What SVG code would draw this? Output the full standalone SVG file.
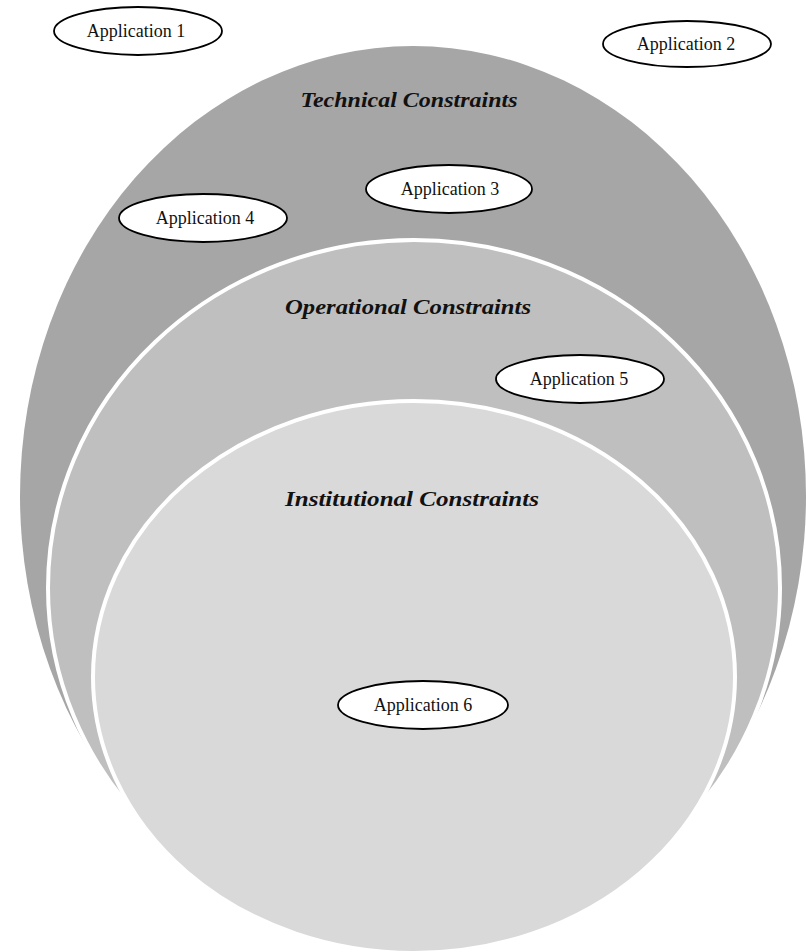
<svg xmlns="http://www.w3.org/2000/svg" width="806" height="952" viewBox="0 0 806 952">
  <style>
    .region-label { font-family: "Liberation Serif", "DejaVu Serif", serif; font-style: italic; font-weight: bold; font-size: 21px; fill: #111; text-anchor: middle; }
    .app { fill: #ffffff; stroke: #000; stroke-width: 1.8; }
    .app-label { font-family: "Liberation Serif", "DejaVu Serif", serif; font-size: 18px; fill: #111; text-anchor: middle; }
    .ring { stroke: #ffffff; stroke-width: 4; }
  </style>
  <rect width="806" height="952" fill="#ffffff"/>

  <g id="technical">
    <ellipse cx="413" cy="496" rx="393" ry="450" fill="#a6a6a6"/>
    <text class="region-label" x="409" y="107" textLength="217" lengthAdjust="spacingAndGlyphs">Technical Constraints</text>
  </g>

  <g id="operational">
    <ellipse class="ring" cx="414" cy="588" rx="366" ry="348" fill="#bfbfbf"/>
    <text class="region-label" x="408" y="314" textLength="246" lengthAdjust="spacingAndGlyphs">Operational Constraints</text>
  </g>

  <g id="institutional">
    <ellipse class="ring" cx="414" cy="677" rx="321" ry="276" fill="#d9d9d9"/>
    <text class="region-label" x="412" y="506" textLength="254" lengthAdjust="spacingAndGlyphs">Institutional Constraints</text>
  </g>

  <g id="app1">
    <ellipse class="app" cx="138" cy="31" rx="84" ry="24"/>
    <text class="app-label" x="136" y="37">Application 1</text>
  </g>
  <g id="app2">
    <ellipse class="app" cx="687" cy="44" rx="84" ry="23"/>
    <text class="app-label" x="686" y="50">Application 2</text>
  </g>
  <g id="app3">
    <ellipse class="app" cx="449" cy="189" rx="83" ry="24"/>
    <text class="app-label" x="450" y="195">Application 3</text>
  </g>
  <g id="app4">
    <ellipse class="app" cx="203" cy="218" rx="84" ry="24"/>
    <text class="app-label" x="205" y="224">Application 4</text>
  </g>
  <g id="app5">
    <ellipse class="app" cx="580" cy="379" rx="84" ry="24"/>
    <text class="app-label" x="579" y="385">Application 5</text>
  </g>
  <g id="app6">
    <ellipse class="app" cx="423" cy="705" rx="85" ry="24"/>
    <text class="app-label" x="423" y="711">Application 6</text>
  </g>

  <g id="connectors"></g>
</svg>
